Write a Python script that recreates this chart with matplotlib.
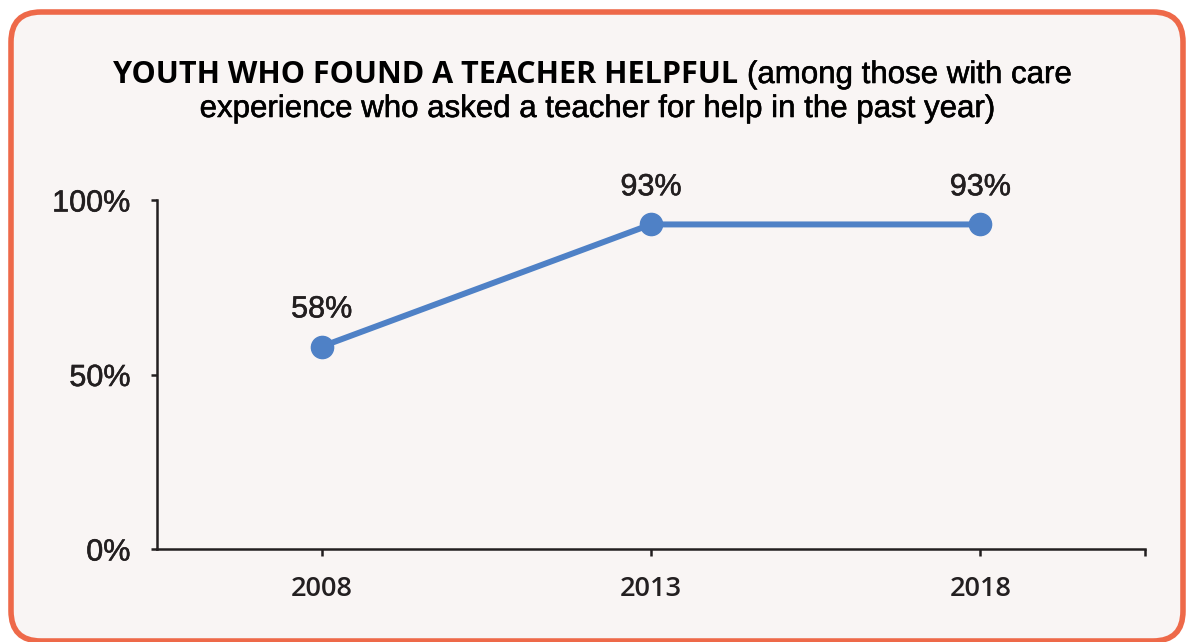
import matplotlib
matplotlib.use('Agg')

import matplotlib.pyplot as plt
import matplotlib.patheffects as pe
from matplotlib.patches import FancyBboxPatch

# Data
years = ['2008', '2013', '2018']
share = [58, 93, 93]
y_ticks = [0, 50, 100]
y_tick_labels = ['0%', '50%', '100%']

title_bold = 'YOUTH WHO FOUND A TEACHER HELPFUL'
title_rest = '(among those with care'
title_line2 = 'experience who asked a teacher for help in the past year)'

W, H = 1190, 642
text_col = '#231F20'
line_col = '#4F81C6'
bg_col = '#F9F5F4'
border_col = '#EE6949'

# slightly heavier look for the Helvetica-style text
thick = [pe.withStroke(linewidth=0.4, foreground=text_col)]
thick_k = [pe.withStroke(linewidth=0.4, foreground='black')]

fig = plt.figure(figsize=(W / 100, H / 100), dpi=100, facecolor='white')

# Background panel with rounded orange border, drawn in pixel coords
bg = fig.add_axes([0, 0, 1, 1])
bg.set_xlim(0, W)
bg.set_ylim(H, 0)
bg.axis('off')
box = FancyBboxPatch((11 + 30, 12 + 30), 1172 - 60, 629 - 60,
                     boxstyle='round,pad=30', facecolor=bg_col,
                     edgecolor=border_col, linewidth=4)
bg.add_patch(box)

# Title, mixed fonts
bg.text(738, 83, title_bold, ha='right', va='baseline', fontsize=22,
        family='Open Sans', weight='bold', color='black')
bg.text(747, 83, title_rest, ha='left', va='baseline', fontsize=22.5,
        family='Liberation Sans', color='black', path_effects=thick_k)
bg.text(598, 117, title_line2, ha='center', va='baseline', fontsize=22.5,
        family='Liberation Sans', color='black', path_effects=thick_k)

# Main chart area
left, right, top, bottom = 157, 1145, 200, 549
ax = fig.add_axes([left / W, 1 - bottom / H, (right - left) / W, (bottom - top) / H])
ax.patch.set_alpha(0)

x = list(range(len(years)))
ax.plot(x, share, color=line_col, linewidth=4.3, marker='o', markersize=16,
        solid_capstyle='butt', zorder=3, clip_on=False)

for xi, v in zip(x, share):
    ax.annotate(f'{v}%', (xi, v), xytext=(0, 21), textcoords='offset points',
                ha='center', va='baseline', fontsize=22,
                family='Liberation Sans', color=text_col, path_effects=thick)

ax.set_xlim(-0.5, 2.5)
ax.set_ylim(0, 100)

for s in ['top', 'right']:
    ax.spines[s].set_visible(False)
for s in ['left', 'bottom']:
    ax.spines[s].set_color(text_col)
    ax.spines[s].set_linewidth(1.8)

ax.set_yticks(y_ticks)
ax.set_yticklabels(y_tick_labels, family='Liberation Sans', fontsize=22, color=text_col)
for lab in ax.get_yticklabels():
    lab.set_path_effects(thick)
ax.set_xticks(x)
ax.set_xticklabels(years, family='Open Sans', fontsize=19.5, weight='semibold', color=text_col)
ax.set_xticks([2.5], minor=True)

ax.tick_params(axis='y', length=4, width=1.8, color=text_col, pad=15)
ax.tick_params(axis='x', which='both', length=5, width=1.8, color=text_col, pad=14)

fig.savefig('out.png', dpi=100, facecolor='white')
